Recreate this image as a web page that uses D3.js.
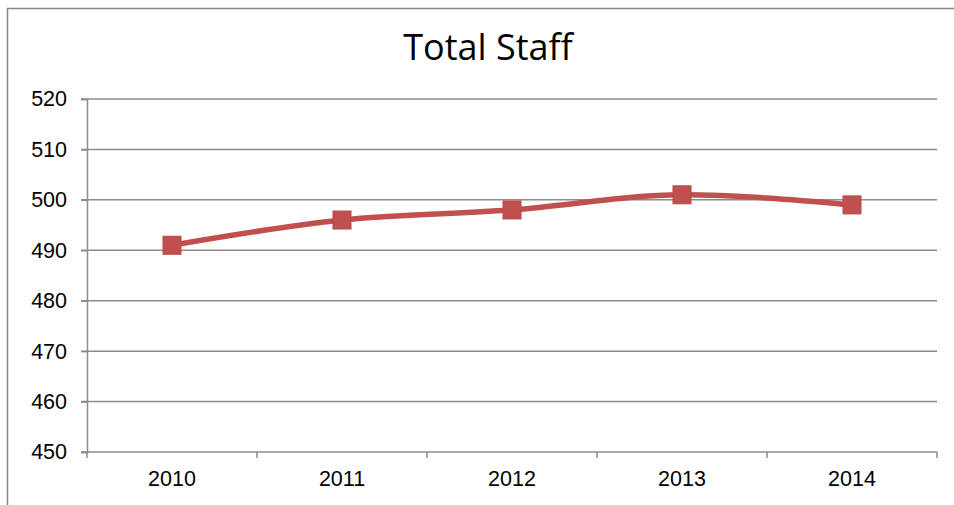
<!DOCTYPE html>
<html>
<head>
<meta charset="utf-8">
<script src="https://cdn.jsdelivr.net/npm/d3@7"></script>
<style>
  body { margin: 0; background: #fff; }
  svg { display: block; font-family: "Open Sans", Lato, sans-serif; }
</style>
</head>
<body>
<svg id="chart" width="954" height="505"></svg>
<script>
const years = ['2010', '2011', '2012', '2013', '2014'];
const staff = [491, 496, 498, 501, 499];
const yTicks = [450, 460, 470, 480, 490, 500, 510, 520];

const width = 954, height = 505;
const margin = { top: 99, right: 17, bottom: 53, left: 87 };

const svg = d3.select('#chart');

// outer frame of the chart
svg.append('rect')
  .attr('x', 7.5).attr('y', 8.5)
  .attr('width', 960).attr('height', 520)
  .attr('fill', 'none')
  .attr('stroke', '#888')
  .attr('stroke-width', 1.5);

svg.append('text')
  .attr('x', 488).attr('y', 60)
  .attr('text-anchor', 'middle')
  .attr('font-size', 36)
  .attr('fill', '#000')
  .text('Total Staff');

const x = d3.scaleBand().domain(years).range([margin.left, width - margin.right]);
const y = d3.scaleLinear().domain([450, 520]).range([height - margin.bottom, margin.top]);

// gridlines
svg.append('g')
  .selectAll('line')
  .data(yTicks)
  .join('line')
  .attr('x1', margin.left - 6).attr('x2', width - margin.right)
  .attr('y1', d => y(d)).attr('y2', d => y(d))
  .attr('stroke', '#8c8c8c')
  .attr('stroke-width', 1.5);

// y axis
const yAxis = svg.append('g')
  .attr('transform', `translate(${margin.left},0)`)
  .call(d3.axisLeft(y).tickValues(yTicks).tickSize(6).tickPadding(14));
yAxis.select('.domain').attr('stroke', '#8c8c8c').attr('stroke-width', 1.5);
yAxis.selectAll('.tick line').attr('stroke', '#8c8c8c').attr('stroke-width', 1.5);
yAxis.selectAll('text').attr('font-size', 21.5).attr('fill', '#000');

// x axis with ticks at band boundaries
const xAxis = svg.append('g')
  .attr('transform', `translate(0,${y(450)})`)
  .call(d3.axisBottom(x).tickSize(0).tickPadding(19));
xAxis.select('.domain').remove();
xAxis.selectAll('text').attr('font-size', 21.5).attr('fill', '#000');
const bounds = years.map(d => x(d)).concat([x(years[years.length - 1]) + x.bandwidth()]);
xAxis.selectAll('.bound')
  .data(bounds)
  .join('line')
  .attr('class', 'bound')
  .attr('x1', d => d).attr('x2', d => d)
  .attr('y1', 0).attr('y2', 6)
  .attr('stroke', '#8c8c8c')
  .attr('stroke-width', 1.5);

const cx = d => x(d) + x.bandwidth() / 2;

const line = d3.line()
  .x((d, i) => cx(years[i]))
  .y(d => y(d))
  .curve(d3.curveMonotoneX);

svg.append('path')
  .datum(staff)
  .attr('d', line)
  .attr('fill', 'none')
  .attr('stroke', '#c0504d')
  .attr('stroke-width', 5.5);

const size = 18;
svg.append('g')
  .selectAll('rect')
  .data(staff)
  .join('rect')
  .attr('x', (d, i) => cx(years[i]) - size / 2)
  .attr('y', d => y(d) - size / 2)
  .attr('width', size).attr('height', size)
  .attr('fill', '#c0504d')
  .attr('stroke', '#b9494a')
  .attr('stroke-width', 1);
</script>
</body>
</html>
